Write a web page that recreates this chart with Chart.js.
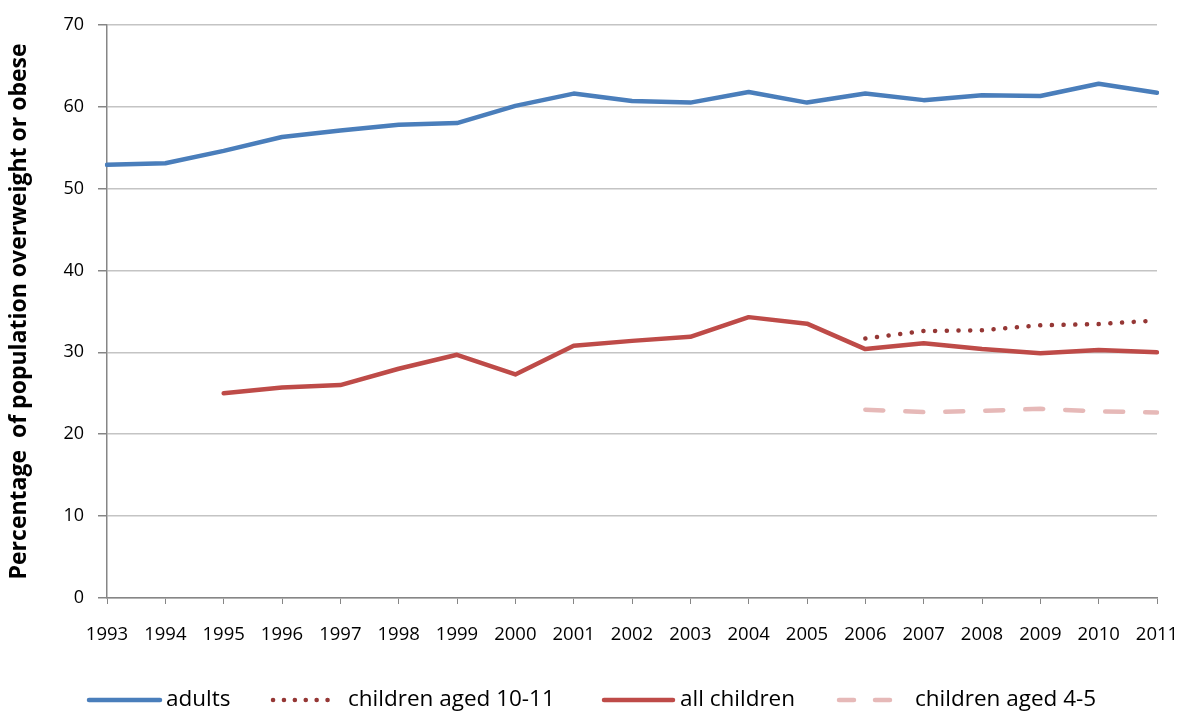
<!DOCTYPE html>
<html>
<head>
<meta charset="utf-8">
<script src="https://cdn.jsdelivr.net/npm/chart.js@4.4.1/dist/chart.umd.min.js"></script>
<style>
  html, body { margin: 0; padding: 0; background: #ffffff; }
  #wrap { width: 1182px; height: 714px; position: relative; }
</style>
</head>
<body>
<div id="wrap"><canvas id="c" width="1182" height="714"></canvas></div>
<script>
// Survey years
const years = ['1993','1994','1995','1996','1997','1998','1999','2000','2001','2002',
               '2003','2004','2005','2006','2007','2008','2009','2010','2011'];

// Percentage overweight or obese
const adults = [52.9, 53.1, 54.6, 56.3, 57.1, 57.8, 58.0, 60.1, 61.6, 60.7,
                60.5, 61.8, 60.5, 61.6, 60.8, 61.4, 61.3, 62.8, 61.7];
const children10to11 = [null, null, null, null, null, null, null, null, null, null,
                        null, null, null, 31.7, 32.6, 32.7, 33.3, 33.45, 33.9];
const allChildren = [null, null, 25.0, 25.7, 26.0, 28.0, 29.7, 27.3, 30.8, 31.4,
                     31.9, 34.3, 33.5, 30.4, 31.1, 30.4, 29.9, 30.3, 30.0];
const children4to5 = [null, null, null, null, null, null, null, null, null, null,
                      null, null, null, 23.0, 22.7, 22.85, 23.1, 22.8, 22.65];

const yTicks = [0, 10, 20, 30, 40, 50, 60, 70];

const FONT = '"Open Sans", Lato, "DejaVu Sans", sans-serif';

// Legend entries laid out in a single row under the axis
const legendItems = [
  { ds: 0, x0: 89,  x1: 160, tx: 166 },
  { ds: 1, x0: 273, x1: 338, tx: 348 },
  { ds: 2, x0: 604, x1: 673, tx: 680 },
  { ds: 3, x0: 839, x1: 893, tx: 915 }
];

const rowLegend = {
  id: 'rowLegend',
  afterDraw(chart) {
    const ctx = chart.ctx;
    const y = 700;
    ctx.save();
    legendItems.forEach(item => {
      const ds = chart.data.datasets[item.ds];
      ctx.beginPath();
      ctx.strokeStyle = ds.borderColor;
      ctx.lineWidth = ds.borderWidth;
      ctx.lineCap = 'round';
      if (ds.legendDash) ctx.setLineDash(ds.legendDash); else ctx.setLineDash([]);
      ctx.moveTo(item.x0, y);
      ctx.lineTo(item.x1, y);
      ctx.stroke();
      ctx.setLineDash([]);
      ctx.fillStyle = '#000000';
      ctx.font = '22.5px ' + FONT;
      ctx.textBaseline = 'middle';
      ctx.textAlign = 'left';
      ctx.fillText(ds.label, item.tx, y);
    });
    ctx.restore();
  }
};

new Chart(document.getElementById('c'), {
  type: 'line',
  data: {
    labels: years,
    datasets: [
      {
        label: 'adults',
        data: adults,
        borderColor: '#4A7EBB',
        borderWidth: 4.5,
        borderCapStyle: 'round',
        borderJoinStyle: 'round',
        pointRadius: 0,
        tension: 0
      },
      {
        label: 'children aged 10-11',
        data: children10to11,
        borderColor: '#953735',
        borderWidth: 4.5,
        borderCapStyle: 'round',
        borderDash: [0.1, 11.6],
        legendDash: [0.1, 10.8],
        pointRadius: 0,
        tension: 0
      },
      {
        label: 'all children',
        data: allChildren,
        borderColor: '#BE4B48',
        borderWidth: 4.5,
        borderCapStyle: 'round',
        borderJoinStyle: 'round',
        pointRadius: 0,
        tension: 0
      },
      {
        label: 'children aged 4-5',
        data: children4to5,
        borderColor: '#E6B9B8',
        borderWidth: 4.5,
        borderCapStyle: 'round',
        borderDash: [18, 22],
        legendDash: [15, 21],
        pointRadius: 0,
        tension: 0
      }
    ]
  },
  options: {
    responsive: false,
    animation: false,
    spanGaps: false,
    layout: { padding: { left: 0, right: 25, top: 23, bottom: 0 } },
    plugins: {
      legend: { display: false },
      tooltip: { enabled: false }
    },
    scales: {
      x: {
        type: 'category',
        offset: false,
        grid: {
          drawOnChartArea: false,
          drawTicks: true,
          tickLength: 6,
          color: '#868686'
        },
        border: { display: true, color: '#868686', width: 1.5 },
        ticks: {
          color: '#000000',
          font: { family: FONT, size: 18.5 },
          padding: 20,
          maxRotation: 0,
          autoSkip: false
        },
        afterFit(scale) {
          scale.height = 116;
          scale.paddingLeft = 0;
          scale.paddingRight = 0;
        }
      },
      y: {
        min: 0,
        max: 70,
        afterBuildTicks(scale) { scale.ticks = yTicks.map(v => ({ value: v })); },
        grid: {
          color: '#C4C4C4',
          lineWidth: 1.5,
          drawTicks: true,
          tickLength: 9,
          tickColor: '#868686'
        },
        border: { display: true, color: '#868686', width: 1.5 },
        ticks: {
          color: '#000000',
          font: { family: FONT, size: 18 },
          padding: 14
        },
        title: {
          display: true,
          text: 'Percentage  of population overweight or obese',
          color: '#000000',
          font: { family: FONT, size: 23, weight: 'bold' },
          padding: { top: 6, bottom: 0 }
        },
        afterFit(scale) { scale.width = 107; }
      }
    }
  },
  plugins: [rowLegend]
});
</script>
</body>
</html>
